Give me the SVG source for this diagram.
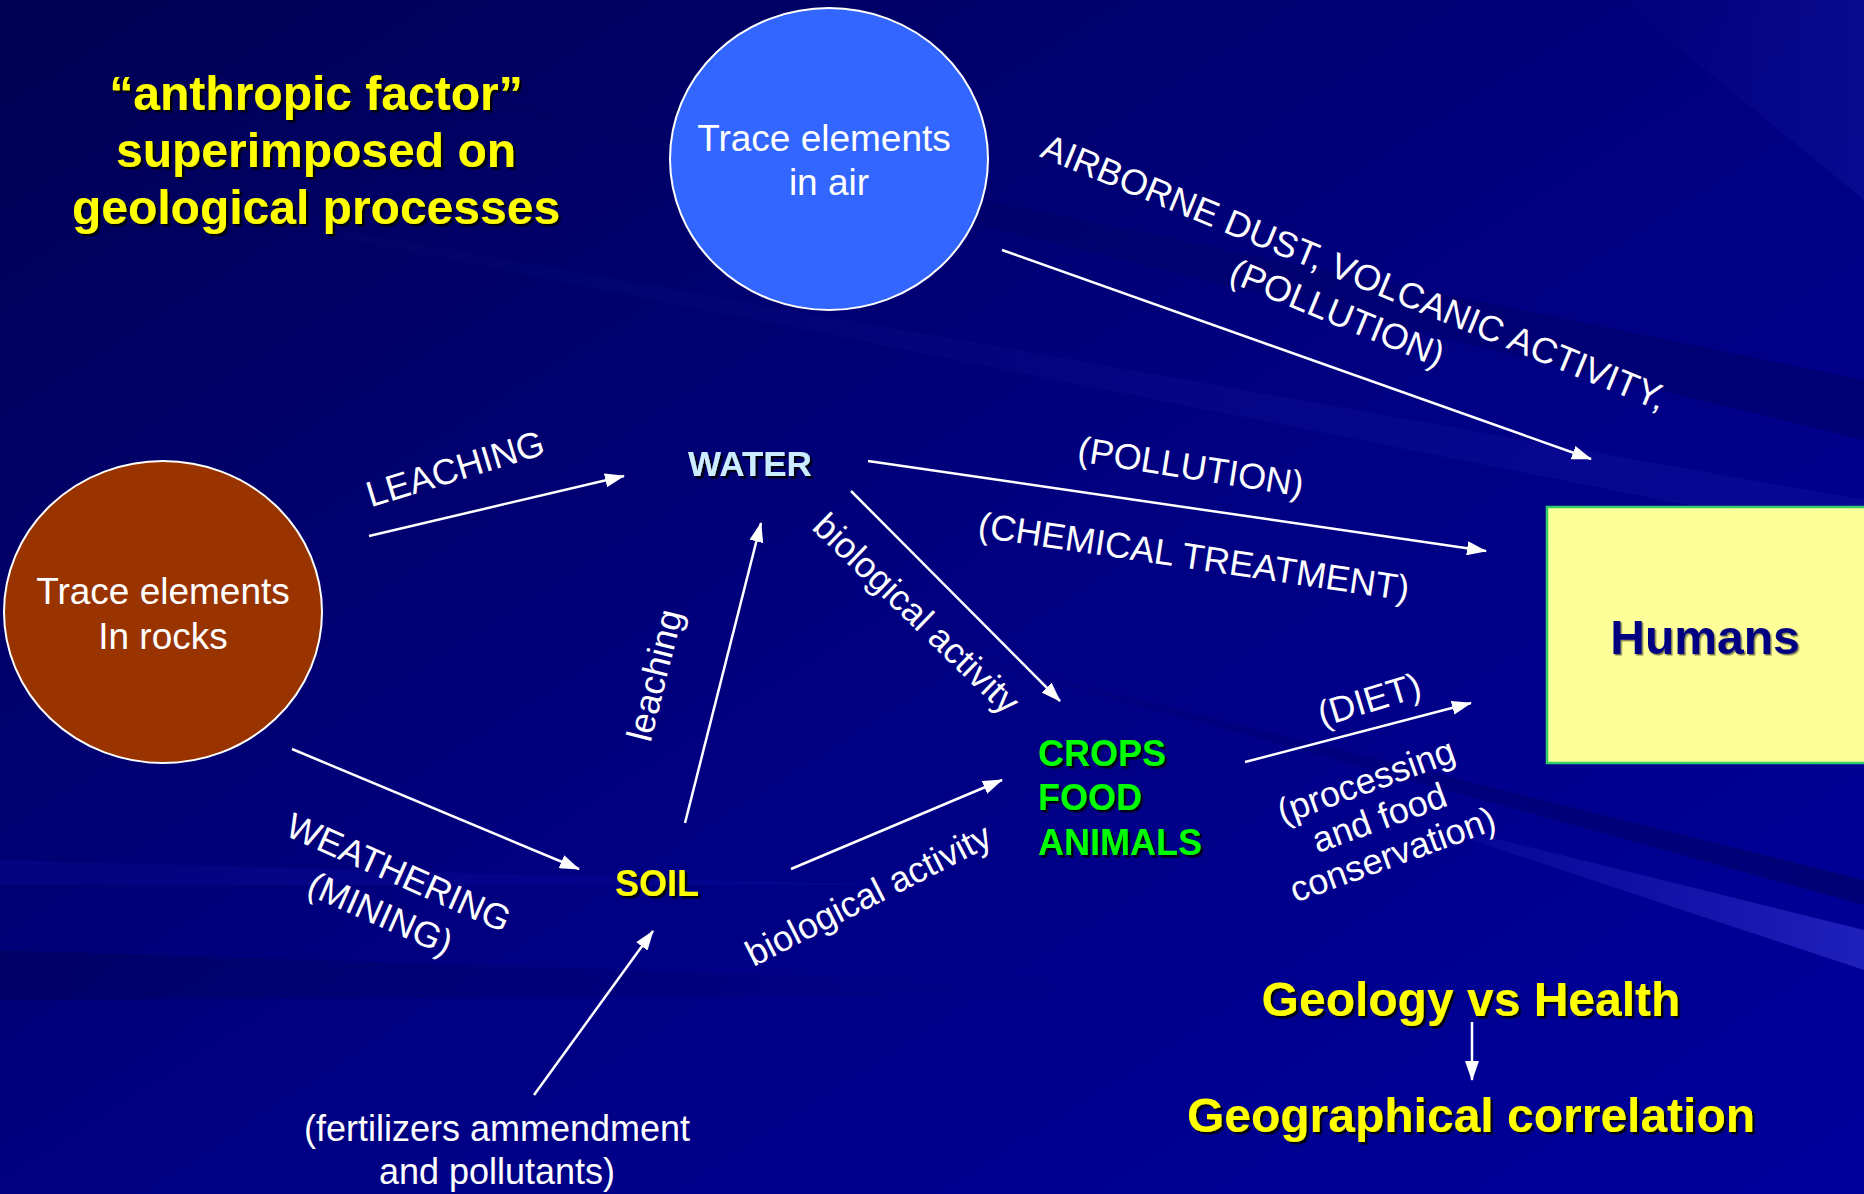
<svg xmlns="http://www.w3.org/2000/svg" width="1864" height="1194" viewBox="0 0 1864 1194">
<defs>
<linearGradient id="bg" x1="0" y1="0" x2="1" y2="1">
<stop offset="0" stop-color="#000052"/>
<stop offset="0.5" stop-color="#000080"/>
<stop offset="1" stop-color="#00009C"/>
</linearGradient>
<linearGradient id="ray" x1="1" y1="0" x2="0" y2="0">
<stop offset="0" stop-color="#5a5aff" stop-opacity="0.35"/>
<stop offset="1" stop-color="#5a5aff" stop-opacity="0"/>
</linearGradient>
<linearGradient id="dray" x1="1" y1="0" x2="0" y2="0">
<stop offset="0" stop-color="#000030" stop-opacity="0.45"/>
<stop offset="1" stop-color="#000030" stop-opacity="0"/>
</linearGradient>
<linearGradient id="band" x1="0" y1="0" x2="1" y2="0">
<stop offset="0" stop-color="#000040" stop-opacity="0.3"/>
<stop offset="1" stop-color="#000040" stop-opacity="0"/>
</linearGradient>
<filter id="sh" x="-10%" y="-10%" width="130%" height="140%">
<feDropShadow dx="2.5" dy="2.5" stdDeviation="0.5" flood-color="#000000" flood-opacity="0.85"/>
</filter>
<filter id="shs" x="-10%" y="-10%" width="130%" height="140%">
<feDropShadow dx="1.5" dy="1.5" stdDeviation="0.5" flood-color="#000000" flood-opacity="0.5"/>
</filter>
<marker id="ah" viewBox="0 0 20 14" refX="19" refY="7" markerWidth="20" markerHeight="14" markerUnits="userSpaceOnUse" orient="auto">
<path d="M0,0 L20,7 L0,14 Z" fill="#ffffff"/>
</marker>
<style>
.lbl{font-family:"Liberation Sans",Arial,sans-serif;font-size:36px;fill:#ffffff;text-anchor:middle}
.node{font-family:"Liberation Sans",Arial,sans-serif;font-size:37px;fill:#ffffff;text-anchor:middle}
.bold{font-family:"Liberation Sans",Arial,sans-serif;font-weight:bold;filter:url(#sh)}
.edge{stroke:#ffffff;stroke-width:2.5;fill:none;marker-end:url(#ah)}
</style>
</defs>
<rect x="0" y="0" width="1864" height="1194" fill="url(#bg)"/>
<g id="background-rays">
<polygon points="1864,930 1864,970 1380,810" fill="url(#ray)"/>
<polygon points="1864,880 1864,905 900,640" fill="url(#dray)" opacity="0.7"/>
<polygon points="1864,380 1864,440 300,60" fill="url(#dray)" opacity="0.5"/>
<polygon points="1864,0 1864,200 1620,0" fill="url(#ray)" opacity="0.3"/>
<polygon points="1864,500 1864,540 0,170" fill="url(#ray)" opacity="0.25"/>
<polygon points="0,950 0,1000 1100,995 1100,985" fill="url(#band)"/>
<polygon points="0,860 0,885 900,885" fill="#3030ff" opacity="0.08"/>
</g>
<g id="title">
<text class="bold" font-size="48" fill="#FFFF00" text-anchor="middle" x="316" y="110">“anthropic factor”</text>
<text class="bold" font-size="48" fill="#FFFF00" text-anchor="middle" x="316" y="167">superimposed on</text>
<text class="bold" font-size="48" fill="#FFFF00" text-anchor="middle" x="316" y="224">geological processes</text>
</g>
<g id="connectors">
<line class="edge" x1="369" y1="536" x2="624" y2="476"/>
<line class="edge" x1="1002" y1="250" x2="1591" y2="459"/>
<line class="edge" x1="868" y1="461" x2="1486" y2="551"/>
<line class="edge" x1="851" y1="491" x2="1060" y2="701"/>
<line class="edge" x1="685" y1="823" x2="761" y2="523"/>
<line class="edge" x1="292" y1="749" x2="579" y2="869"/>
<line class="edge" x1="791" y1="869" x2="1002" y2="780"/>
<line class="edge" x1="1245" y1="762" x2="1471" y2="703"/>
<line class="edge" x1="534" y1="1095" x2="653" y2="931"/>
<line class="edge" x1="1472" y1="1022" x2="1472" y2="1080"/>
</g>
<g id="edge-labels">
<text class="lbl" transform="translate(455,468) rotate(-17)" y="13">LEACHING</text>
<g transform="translate(1346,292) rotate(22.3)">
<text class="lbl" y="-9" font-size="37">AIRBORNE DUST, VOLCANIC ACTIVITY,</text>
<text class="lbl" y="35">(POLLUTION)</text>
</g>
<text class="lbl" transform="translate(1191,466) rotate(9)" y="13">(POLLUTION)</text>
<text class="lbl" transform="translate(1194,556) rotate(8.5)" y="13">(CHEMICAL TREATMENT)</text>
<text class="lbl" transform="translate(917,613) rotate(44)" y="13">biological activity</text>
<text class="lbl" transform="translate(654,675) rotate(-76)" y="13">leaching</text>
<g transform="translate(390,892) rotate(24)">
<text class="lbl" y="-9">WEATHERING</text>
<text class="lbl" y="36">(MINING)</text>
</g>
<text class="lbl" transform="translate(868,894) rotate(-27)" y="13">biological activity</text>
<text class="lbl" transform="translate(1369,699) rotate(-17)" y="13">(DIET)</text>
<g transform="translate(1379,817) rotate(-20)">
<text class="lbl" y="-26">(processing</text>
<text class="lbl" y="13">and food</text>
<text class="lbl" y="52">conservation)</text>
</g>
<text class="lbl" x="497" y="1141">(fertilizers ammendment</text>
<text class="lbl" x="497" y="1184">and pollutants)</text>
</g>
<g id="node-air">
<ellipse cx="829" cy="159" rx="159" ry="151" fill="#3366FF" stroke="#ffffff" stroke-width="2"/>
<text class="node" x="824" y="151">Trace elements</text>
<text class="node" x="829" y="195">in air</text>
</g>
<g id="node-rocks">
<ellipse cx="163" cy="612" rx="159" ry="151" fill="#993300" stroke="#ffffff" stroke-width="2"/>
<text class="node" x="163" y="604">Trace elements</text>
<text class="node" x="163" y="649">In rocks</text>
</g>
<g id="node-humans">
<rect x="1547" y="507" width="330" height="256" fill="#FFFF99" stroke="#33CC66" stroke-width="2.5"/>
<text font-family="Liberation Sans, Arial, sans-serif" font-weight="bold" filter="url(#shs)" font-size="48" fill="#000080" text-anchor="middle" x="1705" y="654">Humans</text>
</g>
<g id="node-water">
<text class="bold" font-size="35" fill="#CCECFF" text-anchor="middle" x="750" y="476">WATER</text>
</g>
<g id="node-soil">
<text class="bold" font-size="36" fill="#FFFF00" text-anchor="middle" x="657" y="896">SOIL</text>
</g>
<g id="node-crops">
<text class="bold" font-size="36" fill="#00FF00" x="1038" y="766">CROPS</text>
<text class="bold" font-size="36" fill="#00FF00" x="1038" y="810">FOOD</text>
<text class="bold" font-size="36" fill="#00FF00" x="1038" y="855">ANIMALS</text>
</g>
<g id="node-geology">
<text class="bold" font-size="48" fill="#FFFF00" text-anchor="middle" x="1471" y="1016">Geology vs Health</text>
</g>
<g id="node-geographical">
<text class="bold" font-size="48" fill="#FFFF00" text-anchor="middle" x="1471" y="1132">Geographical correlation</text>
</g>
</svg>
